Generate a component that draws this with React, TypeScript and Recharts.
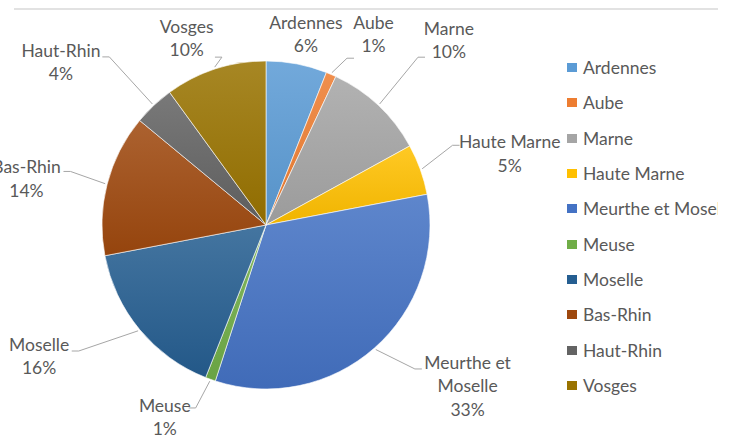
import { Cell, Legend, Pie, PieChart } from "recharts";

const regions = [
  "Ardennes",
  "Aube",
  "Marne",
  "Haute Marne",
  "Meurthe et Moselle",
  "Meuse",
  "Moselle",
  "Bas-Rhin",
  "Haut-Rhin",
  "Vosges",
];
const shares = [6, 1, 10, 5, 33, 1, 16, 14, 4, 10];
const colors = ["#5B9BD5", "#ED7D31", "#A5A5A5", "#FFC000", "#4472C4", "#70AD47", "#255E91", "#9E480E", "#636363", "#997300"];

// Excel "best fit" label spots: distance from centre, angle nudge (deg), where the leader meets the label
const labelLayout = [
  { dist: 195, shift: 1, hook: 0, line: false },
  { dist: 219, shift: 6, hook: 24, line: true },
  { dist: 260, shift: 1.5, hook: 17, line: true },
  { dist: 254, shift: 3.4, hook: -8, line: true },
  { dist: 258, shift: -10, hook: -17, line: true },
  { dist: 217, shift: 8, hook: -9, line: true },
  { dist: 262, shift: 9.6, hook: -5, line: true },
  { dist: 244, shift: -3.4, hook: -7, line: true },
  { dist: 262, shift: -8.3, hook: -5, line: true },
  { dist: 203, shift: -5, hook: 19, line: true },
];

const data = regions.map((name, i) => ({ name, value: shares[i] }));

const FONT = "Lato, 'Open Sans', sans-serif";
const FS = 17.5;
const TEXT = "#595959";

const mix = (hex: string, target: number, amt: number) => {
  const n = parseInt(hex.slice(1), 16);
  const ch = [(n >> 16) & 255, (n >> 8) & 255, n & 255].map((c) => Math.round(c + (target - c) * amt));
  return `rgb(${ch.join(",")})`;
};

const wrap = (s: string, max = 11) => {
  const out: string[] = [];
  let cur = "";
  s.split(" ").forEach((w) => {
    if (cur && (cur + " " + w).length > max) {
      out.push(cur);
      cur = w;
    } else cur = cur ? cur + " " + w : w;
  });
  if (cur) out.push(cur);
  return out;
};

const renderLabel = (props: any) => {
  const { cx, cy, midAngle, outerRadius, index, name, percent } = props;
  const lay = labelLayout[index];
  const t = ((90 - midAngle) * Math.PI) / 180;
  const tl = t + (lay.shift * Math.PI) / 180;
  const lx = cx + lay.dist * Math.sin(tl);
  const ly = cy - lay.dist * Math.cos(tl);
  const lines = [...wrap(name), `${Math.round(percent * 100)}%`];
  const lh = 23.5;
  const top = ly - (lines.length * lh) / 2;
  const half = (Math.max(...lines.map((l) => l.length)) * FS * 0.5) / 2;
  const sx = cx + (outerRadius + 2) * Math.sin(t);
  const sy = cy - (outerRadius + 2) * Math.cos(t);
  const right = lx > cx;
  const ex = right ? lx - half - 2 : lx + half + 2;
  const ey = ly + lay.hook;
  const bx = right ? ex - 7 : ex + 7;
  return (
    <g key={`lab-${index}`}>
      {lay.line && (
        <polyline points={`${sx},${sy} ${bx},${ey} ${ex},${ey}`} fill="none" stroke="#a6a6a6" strokeWidth={1} />
      )}
      <text x={lx} y={top} textAnchor="middle" fill={TEXT} fontFamily={FONT} fontSize={FS}>
        {lines.map((l, i) => (
          <tspan key={i} x={lx} y={top + lh * i + lh / 2} dominantBaseline="central">
            {l}
          </tspan>
        ))}
      </text>
    </g>
  );
};

const renderLegend = () => (
  <div style={{ width: 151, overflow: "hidden", whiteSpace: "nowrap", fontFamily: FONT, fontSize: FS, color: TEXT }}>
    {regions.map((r, i) => (
      <div key={r} style={{ height: 35.3, display: "flex", alignItems: "center" }}>
        <span style={{ display: "inline-block", width: 10, height: 9, background: colors[i], marginRight: 6, flex: "none" }} />
        <span>{r}</span>
      </div>
    ))}
  </div>
);

export default function App() {
  return (
    <div style={{ position: "absolute", left: 0, top: 0, width: 730, height: 435, background: "#fff", overflow: "hidden" }}>
      <div style={{ position: "absolute", left: 14, top: 8, width: 704, borderTop: "2px solid #e2e2e2" }} />
      <PieChart width={730} height={435} margin={{ top: 0, right: 0, bottom: 0, left: 0 }}>
        <defs>
          {colors.map((c, i) => (
            <linearGradient key={i} id={`g${i}`} x1="0" y1="0" x2="0" y2="1">
              <stop offset="0%" stopColor={mix(c, 255, 0.14)} />
              <stop offset="100%" stopColor={mix(c, 0, 0.06)} />
            </linearGradient>
          ))}
        </defs>
        <Pie
          data={data}
          dataKey="value"
          nameKey="name"
          cx={266}
          cy={225}
          outerRadius={164}
          startAngle={90}
          endAngle={-270}
          stroke="#ffffff"
          strokeWidth={0.6}
          label={renderLabel}
          labelLine={false}
          isAnimationActive={false}
        >
          {data.map((d, i) => (
            <Cell key={d.name} fill={`url(#g${i})`} />
          ))}
        </Pie>
        <Legend
          layout="vertical"
          align="right"
          verticalAlign="top"
          content={renderLegend}
          wrapperStyle={{ position: "absolute", left: 567, top: 50, width: 151 }}
        />
      </PieChart>
    </div>
  );
}
